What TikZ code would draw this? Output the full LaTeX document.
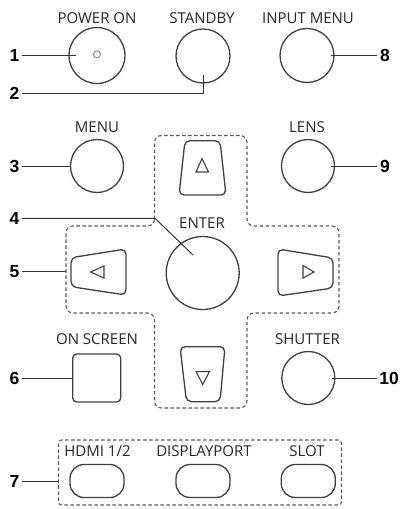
\documentclass[tikz,border=0pt]{standalone}
\usepackage{fontspec}
\newfontfamily\capfont{Open Sans}
\newfontfamily\numfont{Liberation Sans}

\begin{document}
\begin{tikzpicture}
    [x=1pt,y=-1pt,
    key/.style={draw=black!75,line width=1.3pt,inner sep=0pt},
    round key/.style={key,circle},
    oval key/.style={key,rectangle,rounded corners=14pt,minimum width=54pt,minimum height=33pt},
    caption/.style={font={\capfont\fontsize{15}{18}\selectfont},text=black!85,anchor=base,inner sep=0pt},
    callout/.style={font={\numfont\bfseries\fontsize{17.5}{20}\selectfont},inner sep=2.5pt},
    lead/.style={draw=black!80,line width=1pt},
    group/.style={draw=black!65,line width=1.1pt,dash pattern=on 3.5pt off 2.5pt}]

    \useasboundingbox (0,0) rectangle (404,509);

    % top row
    \node (power on)   at ( 97,55.5) [round key,minimum size=56pt] {};
    \node (power lamp) at ( 97,54.3) [circle,draw=black!45,line width=1pt,inner sep=0pt,minimum size=7pt] {};
    \node (standby)    at (203,56)   [round key,minimum size=54pt] {};
    \node (input menu) at (307,55.5) [round key,minimum size=54pt] {};

    \node (power on text)   at ( 97,23.3) [caption] {POWER ON};
    \node (standby text)    at (202,23.3) [caption] {STANDBY};
    \node (input menu text) at (308,23.3) [caption] {INPUT MENU};

    % second row
    \node (menu) at ( 97,166) [round key,minimum size=53pt] {};
    \node (lens) at (308,166) [round key,minimum size=53pt] {};
    \node (menu text) at ( 97,132.7) [caption] {MENU};
    \node (lens text) at (307,132.7) [caption] {LENS};

    % cursor keys
    \draw [group,rounded corners=7pt]
      (154.5,226) -- (154.5,135.5) -- (247,135.5) -- (247,226) -- (339,226)
      -- (339,313) -- (247,313) -- (247,408) -- (154.5,408) -- (154.5,313)
      -- (66,313) -- (66,226) -- cycle;
    \coordinate (cross west) at (66,271.7);

    \draw [key,rounded corners=5pt] (185,140.7) -- (220,140.7) -- (226,195) -- (179,195) -- cycle;
    \draw [key,line width=1.1pt] (202,158.5) -- (208.5,172) -- (196,172) -- cycle;

    \draw [key,rounded corners=5pt] (180,346.7) -- (225,346.7) -- (220,401.7) -- (186.5,401.7) -- cycle;
    \draw [key,line width=1.1pt] (196,371.5) -- (209.5,371.5) -- (202.7,384.5) -- cycle;

    \draw [key,rounded corners=5pt] (71,257.7) -- (126,249) -- (126,295) -- (71,286.7) -- cycle;
    \draw [key,line width=1.1pt] (90.5,272) -- (104,266) -- (104,278) -- cycle;

    \draw [key,rounded corners=5pt] (278,249) -- (333,258) -- (333,288) -- (278,296) -- cycle;
    \draw [key,line width=1.1pt] (303,265.5) -- (314,272) -- (303,278) -- cycle;

    \node (enter) at (202.7,273) [round key,minimum size=73pt] {};
    \node (enter text) at (202,228) [caption] {ENTER};

    % third row
    \node (on screen) at ( 96.7,378) [key,rectangle,rounded corners=4pt,minimum size=48pt] {};
    \node (shutter)   at (308.3,378) [round key,minimum size=53pt] {};
    \node (on screen text) at ( 97,344) [caption] {ON SCREEN};
    \node (shutter text)   at (307.5,344) [caption] {SHUTTER};

    % input keys
    \node (sources) at (200,472.5) [group,rectangle,rounded corners=3pt,minimum width=283pt,minimum height=65pt] {};
    \node (hdmi)        at ( 97,481) [oval key] {};
    \node (displayport) at (203,481) [oval key] {};
    \node (slot)        at (308.3,481) [oval key] {};
    \node (hdmi text)        at ( 97.5,456.7) [caption] {HDMI 1/2};
    \node (displayport text) at (204,456.7) [caption] {DISPLAYPORT};
    \node (slot text)        at (307,456.7) [caption] {SLOT};

    % callouts
    \node (n1)  at (14.5,55.5)  [callout] {1};
    \node (n2)  at (14.5,93.3)  [callout] {2};
    \node (n3)  at (14.5,166)   [callout] {3};
    \node (n4)  at (14.5,218.3) [callout] {4};
    \node (n5)  at (14.5,271.7) [callout] {5};
    \node (n6)  at (14.5,378)   [callout] {6};
    \node (n7)  at (14.5,481.7) [callout] {7};
    \node (n8)  at (385,55.5)   [callout] {8};
    \node (n9)  at (385,166)    [callout] {9};
    \node (n10) at (389,378)    [callout] {10};

    \coordinate (bend 4) at (155,218.3);
    \coordinate (tip 4)  at (193,255);

    \draw [lead] (n1) -- ([xshift=8pt]power on.west);
    \draw [lead] (n2) -- (n2 -| standby) -- ([yshift=9pt]standby.south);
    \draw [lead] (n3) -- (menu);
    \draw [lead] (n4) -- (bend 4) -- (tip 4);
    \draw [lead] (n5) -- (cross west);
    \draw [lead] (n6) -- (on screen);
    \draw [lead] (n7) -- (n7 -| sources.west);
    \draw [lead] ([xshift=-4pt]input menu.east) -- (n8);
    \draw [lead] ([xshift=-4pt]lens.east) -- (n9);
    \draw [lead] ([xshift=-3pt]shutter.east) -- (n10);

  \end{tikzpicture}
\end{document}
